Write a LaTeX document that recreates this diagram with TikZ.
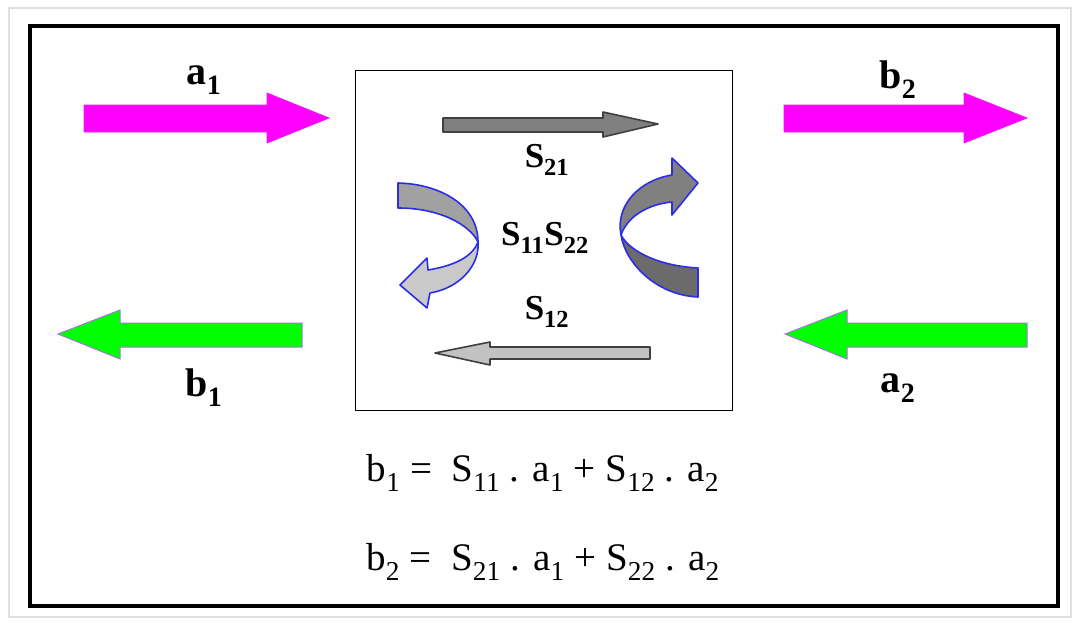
\documentclass[tikz,border=0pt]{standalone}
\usepackage{fontspec}
\setmainfont{Liberation Serif}

\definecolor{pinkfill}{RGB}{255,0,255}
\definecolor{greenfill}{RGB}{0,255,0}
\definecolor{rimcol}{RGB}{160,120,220}
\definecolor{ribbonblue}{RGB}{45,45,230}

\tikzset{
  lbl/.style = {font=\fontsize{40}{44}\selectfont\bfseries, inner sep=0pt},
  slbl/.style = {font=\fontsize{35}{40}\selectfont\bfseries, inner sep=0pt},
  eqn/.style = {font=\fontsize{39}{44}\selectfont, inner sep=0pt},
  pinkarrow/.style = {fill=pinkfill, draw=pinkfill!80!rimcol, line width=0.8pt},
  greenarrow/.style = {fill=greenfill, draw=rimcol, line width=1pt},
  grayarrow/.style = {draw=black!75, line width=1.6pt, line join=round},
  ribbon/.style = {draw=ribbonblue, line width=1.6pt, line join=round}
}

\begin{document}
\begin{tikzpicture}[x=1pt, y=-1pt]
        \useasboundingbox (0,0) rectangle (1073,624);

        % frames
        \draw[gray!25, line width=1.5pt] (9,8) rectangle (1071,617);
        \draw[black, line width=4pt] (30,26) rectangle (1058,606);
        \draw[black, line width=1pt] (355,70) rectangle (732,410);

        % incident and reflected waves
        \filldraw[pinkarrow] (84,105) -- (267,105) -- (267,93) -- (329,118)
            -- (267,143) -- (267,132) -- (84,132) -- cycle;
        \filldraw[pinkarrow] (784,105) -- (964,105) -- (964,93) -- (1027,118)
            -- (964,143) -- (964,132) -- (784,132) -- cycle;
        \filldraw[greenarrow] (302,323) -- (120,323) -- (120,310) -- (58,334)
            -- (120,359) -- (120,347) -- (302,347) -- cycle;
        \filldraw[greenarrow] (1027,323) -- (847,323) -- (847,310) -- (785,334)
            -- (847,359) -- (847,347) -- (1027,347) -- cycle;

        % transmission
        \filldraw[grayarrow, fill=black!50] (443,118) -- (603,118) -- (603,112) -- (658,124)
            -- (603,137) -- (603,132) -- (443,132) -- cycle;
        \filldraw[grayarrow, fill=black!24] (650,347) -- (490,347) -- (490,342) -- (435,353)
            -- (490,365) -- (490,359) -- (650,359) -- cycle;

        % reflection, left ribbon
        \filldraw[ribbon, fill=black!37] (398,183) .. controls (440,184) and (478,205) .. (478,242)
            .. controls (470,225) and (440,208) .. (398,208) -- cycle;
        \filldraw[ribbon, fill=black!21] (478,242) .. controls (480,265) and (460,288) .. (430,293)
            -- (427,308) -- (400,285) -- (427,258) -- (428,270)
            .. controls (452,266) and (472,258) .. (478,242) -- cycle;

        % reflection, right ribbon
        \filldraw[ribbon, fill=black!58] (621,235) .. controls (625,262) and (655,295) .. (698,297)
            -- (698,268) .. controls (660,266) and (630,252) .. (621,235) -- cycle;
        \filldraw[ribbon, fill=black!50] (621,235) .. controls (615,205) and (640,180) .. (672,175)
            -- (672,158) -- (698,183) -- (672,215) -- (672,202)
            .. controls (650,204) and (628,215) .. (621,235) -- cycle;

        % labels
        \node[lbl] (a1) at (204,80) {a\textsubscript{1}};
        \node[lbl] (b2) at (898,80) {b\textsubscript{2}};
        \node[lbl] (b1) at (204,388) {b\textsubscript{1}};
        \node[lbl] (a2) at (898,388) {a\textsubscript{2}};

        \node[slbl] (s21) at (547,160) {S\textsubscript{21}};
        \node[slbl] (s1122) at (545,238) {S\textsubscript{11}S\textsubscript{22}};
        \node[slbl] (s12) at (547,312) {S\textsubscript{12}};

        \node[eqn] (eq1) at (543,473) {b\textsubscript{1} =\ \ S\textsubscript{11} . a\textsubscript{1} + S\textsubscript{12} . a\textsubscript{2}};
        \node[eqn] (eq2) at (543,562) {b\textsubscript{2} =\ \ S\textsubscript{21} . a\textsubscript{1} + S\textsubscript{22} . a\textsubscript{2}};
    \end{tikzpicture}
\end{document}
